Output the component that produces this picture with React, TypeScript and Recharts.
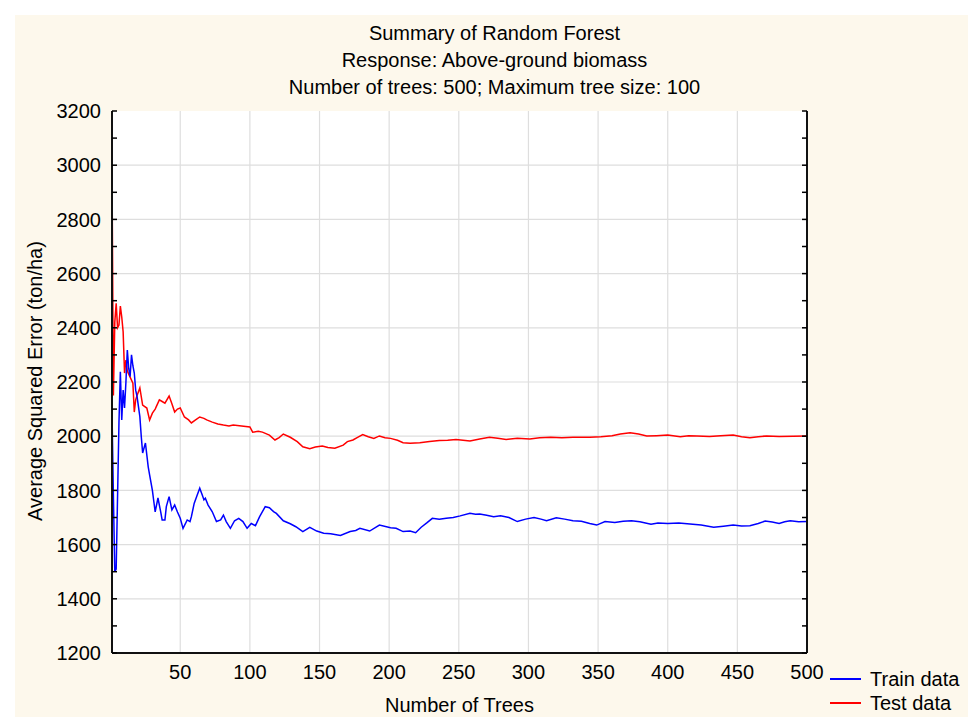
import React from 'react';
import { LineChart, Line, XAxis, YAxis, CartesianGrid } from 'recharts';

const testTrees = [1,2,3,4,5,6,7,8,9,10,11,12,14,16,17,18,19,21,23,26,28,30,32,35,37,39,42,44,46,48,50,53,56,58,61,64,67,69,73,77,81,85,88,94,100,102,106,109,114,118,121,124,129,134,138,143,147,152,156,161,167,170,174,177,181,185,189,193,197,201,206,210,215,222,229,236,242,248,258,265,272,278,284,292,301,308,316,324,332,344,352,360,366,373,379,385,392,400,409,415,421,430,438,447,453,459,465,471,480,490,500];
const testMSE = [2980,2150,2420,2490,2400,2410,2480,2440,2385,2233,2281,2240,2218,2196,2089,2134,2150,2178,2115,2104,2060,2085,2100,2134,2128,2122,2148,2120,2089,2100,2104,2071,2060,2049,2060,2071,2066,2060,2052,2045,2041,2038,2041,2038,2034,2015,2018,2015,2004,1986,1995,2008,1996,1980,1961,1954,1960,1964,1958,1956,1967,1980,1986,1995,2006,1998,1992,2001,1994,1992,1985,1976,1974,1976,1980,1984,1985,1988,1982,1990,1996,1992,1988,1992,1990,1994,1996,1994,1996,1996,1998,2002,2008,2013,2008,2001,2002,2004,1998,2002,2001,1999,2002,2004,1998,1994,1998,2001,1999,2000,2001];

const trainTrees = [1,2,3,4,5,6,7,8,9,10,11,12,13,14,15,16,17,18,19,21,22,23,25,27,28,30,31,32,34,36,37,39,40,42,44,46,48,50,52,55,57,58,60,62,64,66,67,68,70,73,76,79,81,83,86,89,92,95,98,101,104,107,111,114,117,119,124,129,133,138,143,148,153,158,165,172,176,179,186,193,201,205,210,215,219,223,227,231,236,241,246,251,258,262,265,270,275,280,286,292,298,304,309,313,320,326,332,338,344,349,355,362,368,374,380,388,393,400,408,416,424,433,440,447,453,459,465,470,475,480,484,488,494,500];
const trainMSE = [2090,1780,1500,1510,1780,2050,2238,2060,2170,2104,2200,2318,2250,2220,2300,2260,2233,2170,2146,2072,2000,1938,1975,1887,1857,1800,1760,1721,1772,1720,1691,1691,1740,1777,1728,1746,1720,1697,1660,1691,1685,1703,1752,1780,1808,1780,1765,1771,1746,1721,1685,1691,1709,1685,1660,1688,1697,1685,1660,1678,1670,1703,1740,1736,1722,1715,1688,1677,1666,1648,1664,1650,1642,1640,1634,1648,1652,1660,1650,1672,1662,1660,1648,1650,1644,1664,1680,1697,1694,1697,1700,1706,1716,1712,1713,1708,1703,1706,1700,1685,1694,1700,1694,1688,1699,1694,1688,1686,1678,1672,1685,1682,1686,1688,1684,1675,1680,1678,1680,1676,1672,1664,1668,1672,1669,1670,1678,1687,1683,1678,1684,1688,1684,1685];

const xTicks = [50,100,150,200,250,300,350,400,450,500];
const xTopTicks = [50,100,150,200,250,300,350,400,450];
const xGrid = [50,100,150,200,250,300,350,400,450];
const yTicks = [1200,1300,1400,1500,1600,1700,1800,1900,2000,2100,2200,2300,2400,2500,2600,2700,2800,2900,3000,3100,3200];
const yGrid = [1400,1600,1800,2000,2200,2400,2600,2800,3000];
const titleLines = ['Summary of Random Forest', 'Response: Above-ground biomass', 'Number of trees: 500; Maximum tree size: 100'];
const seriesNames = ['Train data', 'Test data'];
const seriesColors = ['#0000ff', '#ff0000'];
const xLabel = 'Number of Trees';
const yLabel = 'Average Squared Error (ton/ha)';

const W = 968, H = 717;
const PLOT_LEFT = 112, PLOT_RIGHT = 807, PLOT_TOP = 111, PLOT_BOTTOM = 653;
const FONT = '"Liberation Sans", Arial, sans-serif';

const testData = testTrees.map((t, i) => ({ t, v: testMSE[i] }));
const trainData = trainTrees.map((t, i) => ({ t, v: trainMSE[i] }));

const LeftTick = (props: any) => {
  const { y, payload } = props;
  const v = payload.value;
  return (
    <g>
      <line x1={PLOT_LEFT} x2={PLOT_LEFT + 5} y1={y} y2={y} stroke="#000" strokeWidth={1.5} />
      {v % 200 === 0 && (
        <text x={PLOT_LEFT - 11} y={y} dy="0.36em" textAnchor="end" fontSize={20} fill="#000" fontFamily={FONT}>{v}</text>
      )}
    </g>
  );
};

const RightTick = (props: any) => {
  const { y } = props;
  return <line x1={PLOT_RIGHT - 5} x2={PLOT_RIGHT} y1={y} y2={y} stroke="#000" strokeWidth={1.5} />;
};

const BottomTick = (props: any) => {
  const { x, payload } = props;
  return (
    <text x={x} y={PLOT_BOTTOM + 19} dy="0.36em" textAnchor="middle" fontSize={20} fill="#000" fontFamily={FONT}>{payload.value}</text>
  );
};

const TopTick = (props: any) => {
  const { x } = props;
  return <line x1={x} x2={x} y1={PLOT_TOP} y2={PLOT_TOP + 5} stroke="#000" strokeWidth={1.5} />;
};

export default function App() {
  return (
    <div style={{ position: 'absolute', left: 0, top: 0, width: W, height: H, background: '#ffffff', overflow: 'hidden', fontFamily: FONT }}>
      <div style={{ position: 'absolute', left: 15, top: 15, right: 0, bottom: 0, background: '#fdf8ec' }} />
      <div style={{ position: 'absolute', left: 0, top: 0 }}>
        <LineChart width={W} height={H} data={trainData}
          margin={{ top: PLOT_TOP, right: 0, bottom: 0, left: 0 }}>
          <CartesianGrid stroke="#dedede" strokeWidth={1.2} fill="#ffffff"
            horizontalValues={yGrid} verticalValues={xGrid} />
          <XAxis xAxisId={0} dataKey="t" type="number" domain={[1, 500]} ticks={xTicks}
            allowDataOverflow height={H - PLOT_BOTTOM} tickLine={false}
            axisLine={{ stroke: '#111', strokeWidth: 2 }} tick={<BottomTick />} interval={0} />
          <XAxis xAxisId="top" orientation="top" dataKey="t" type="number" domain={[1, 500]} ticks={xTopTicks}
            allowDataOverflow height={0} tickLine={false}
            axisLine={{ stroke: '#111', strokeWidth: 2 }} tick={<TopTick />} interval={0} />
          <YAxis yAxisId={0} type="number" domain={[1200, 3200]} ticks={yTicks} width={PLOT_LEFT}
            allowDataOverflow tickLine={false} interval={0}
            axisLine={{ stroke: '#111', strokeWidth: 2 }} tick={<LeftTick />} />
          <YAxis yAxisId="right" orientation="right" type="number" domain={[1200, 3200]} ticks={yTicks}
            width={W - PLOT_RIGHT} allowDataOverflow tickLine={false} interval={0}
            axisLine={{ stroke: '#111', strokeWidth: 2 }} tick={<RightTick />} />
          <Line data={testData} dataKey="v" xAxisId={0} yAxisId={0} type="linear" stroke={seriesColors[1]}
            strokeWidth={1.5} dot={false} isAnimationActive={false} />
          <Line data={trainData} dataKey="v" xAxisId={0} yAxisId={0} type="linear" stroke={seriesColors[0]}
            strokeWidth={1.5} dot={false} isAnimationActive={false} />
        </LineChart>
      </div>
      {titleLines.map((s, i) => (
        <div key={i} style={{ position: 'absolute', left: 0, width: 989, top: 21 + i * 27, textAlign: 'center', fontSize: 20, lineHeight: '24px', color: '#000', whiteSpace: 'nowrap' }}>{s}</div>
      ))}
      <div style={{ position: 'absolute', left: PLOT_LEFT, width: PLOT_RIGHT - PLOT_LEFT, top: 694, textAlign: 'center', fontSize: 20, lineHeight: '22px', color: '#000' }}>{xLabel}</div>
      <div style={{ position: 'absolute', left: 35 - 200, top: 381 - 12, width: 400, textAlign: 'center', fontSize: 20, lineHeight: '24px', color: '#000', transform: 'rotate(-90deg)', whiteSpace: 'nowrap' }}>{yLabel}</div>
      {seriesNames.map((s, i) => (
        <div key={s} style={{ position: 'absolute', left: 830, top: 667 + i * 24, height: 24, display: 'flex', alignItems: 'center', fontSize: 20, color: '#000', whiteSpace: 'nowrap' }}>
          <div style={{ width: 31, height: 2, background: seriesColors[i], marginRight: 9 }} />
          <span>{s}</span>
        </div>
      ))}
    </div>
  );
}
